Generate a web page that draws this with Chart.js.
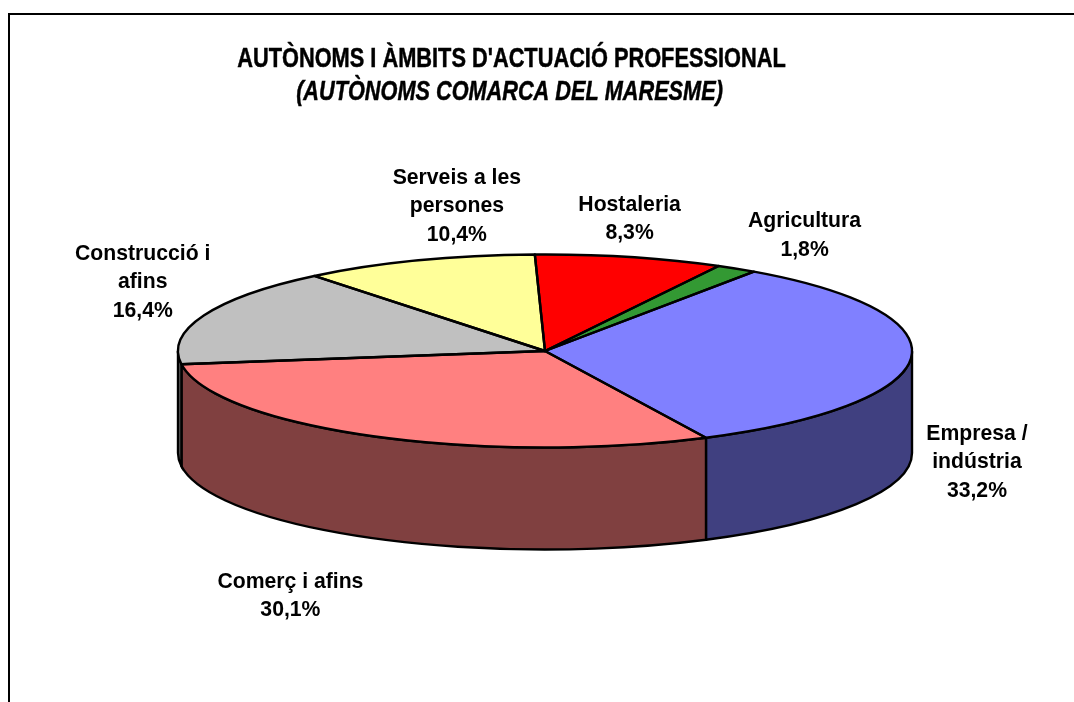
<!DOCTYPE html>
<html>
<head>
<meta charset="utf-8">
<style>
html, body { margin: 0; padding: 0; background: #fff; overflow: hidden; }
#frame { position: absolute; left: 8px; top: 13px; right: 0; bottom: 0; border-top: 2px solid #000; border-left: 2px solid #000; }
#chart-pie { position: absolute; left: 0; top: 0; }
</style>
</head>
<body>
<div id="frame"></div>
<canvas id="chart-pie" width="1074" height="702"></canvas>
<script src="https://cdn.jsdelivr.net/npm/chart.js@4/dist/chart.umd.min.js"></script>
<script>
var titleText = "AUTÒNOMS I ÀMBITS D'ACTUACIÓ PROFESSIONAL";
var subtitleText = "(AUTÒNOMS COMARCA DEL MARESME)";
var categories = [['Empresa /', 'indústria'], ['Comerç i afins'], ['Construcció i', 'afins'], ['Serveis a les', 'persones'], ['Hostaleria'], ['Agricultura']];
var values = [33.2, 30.1, 16.4, 10.4, 8.3, 1.8];
var topColors = ['#8080FF', '#FF8080', '#C0C0C0', '#FFFF99', '#FF0000', '#339933'];
var sideColors = ['#404080', '#804040', '#606060', '#80804C', '#800000', '#1A4D1A'];

// fake 3d: the pie is squashed into an ellipse and sits on top of an extruded rim
var radiusX = 367;
var radiusY = 96.5;
var depth = 102;
var lineHeight = 28.5;
// where each label sits, relative to the rim point at the middle of its slice
var labelNudges = [[66, 104], [-82, 160], [-61, -33], [39, -54], [0, -38], [68, -33]];

// the title font is a tall condensed one, so squeeze it sideways
function drawCondensed(ctx, text, font, x, y, squeeze) {
    ctx.save();
    ctx.translate(x, y);
    ctx.scale(squeeze, 1);
    ctx.font = font;
    ctx.lineWidth = 0.5;
    ctx.strokeStyle = '#000';
    ctx.fillText(text, 0, 0);
    ctx.strokeText(text, 0, 0);
    ctx.restore();
}

var pie3d = {
    id: 'pie3d',
    beforeDatasetsDraw: function (chart) {
        var ctx = chart.ctx;
        var arcs = chart.getDatasetMeta(0).data;
        var cx = arcs[0].x, cy = arcs[0].y;
        ctx.save();
        ctx.lineWidth = 2.4;
        ctx.strokeStyle = '#000';
        arcs.forEach(function (arc, i) {
            for (var k = 0; k < 2; k++) {
                var s = Math.max(arc.startAngle, k * 2 * Math.PI);
                var e = Math.min(arc.endAngle, k * 2 * Math.PI + Math.PI);
                if (e <= s) continue;
                ctx.beginPath();
                ctx.ellipse(cx, cy, radiusX, radiusY, 0, s, e);
                ctx.ellipse(cx, cy + depth, radiusX, radiusY, 0, e, s, true);
                ctx.closePath();
                ctx.fillStyle = sideColors[i];
                ctx.fill();
                ctx.stroke();
            }
        });
        ctx.restore();
        ctx.save();
        ctx.translate(cx, cy);
        ctx.scale(1, radiusY / radiusX);
        ctx.translate(-cx, -cy);
    },
    afterDatasetsDraw: function (chart) {
        var ctx = chart.ctx;
        ctx.restore();
        var arcs = chart.getDatasetMeta(0).data;
        ctx.save();
        ctx.lineWidth = 2.4;
        ctx.strokeStyle = '#000';
        ctx.lineJoin = 'round';
        arcs.forEach(function (arc) {
            ctx.beginPath();
            ctx.moveTo(arc.x, arc.y);
            ctx.ellipse(arc.x, arc.y, radiusX, radiusY, 0, arc.startAngle, arc.endAngle);
            ctx.closePath();
            ctx.stroke();
        });
        ctx.restore();

        ctx.save();
        ctx.fillStyle = '#000';
        ctx.textAlign = 'center';
        ctx.textBaseline = 'middle';
        drawCondensed(ctx, titleText, 'bold 28px "Liberation Sans"', 511.5, 59.5, 0.778);
        drawCondensed(ctx, subtitleText, 'italic bold 28px "Liberation Sans"', 509.5, 92.5, 0.775);
        ctx.font = 'bold 21.2px "Liberation Sans"';
        arcs.forEach(function (arc, i) {
            var mid = (arc.startAngle + arc.endAngle) / 2;
            var x = arc.x + radiusX * Math.cos(mid) + labelNudges[i][0];
            var y = arc.y + radiusY * Math.sin(mid) + labelNudges[i][1];
            var lines = categories[i].concat(values[i].toFixed(1).replace('.', ',') + '%');
            lines.forEach(function (line, n) {
                ctx.fillText(line, x, y + (n - (lines.length - 1) / 2) * lineHeight);
            });
        });
        ctx.restore();
    }
};

var chartPie = new Chart(document.getElementById('chart-pie'), {
    type: 'pie',
    data: {
        labels: categories.map(function (c) { return c.join(' '); }),
        datasets: [{
            data: values,
            backgroundColor: topColors,
            borderWidth: 0
        }]
    },
    options: {
        responsive: false,
        animation: false,
        rotation: 34.7,
        radius: radiusX,
        layout: { padding: { left: 16 } },
        plugins: { legend: { display: false }, tooltip: { enabled: false } }
    },
    plugins: [pie3d]
});
</script>
</body>
</html>
